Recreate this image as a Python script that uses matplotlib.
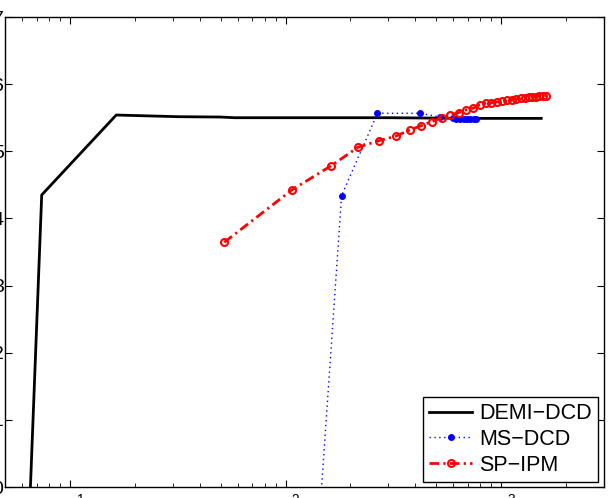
import numpy as np
import matplotlib
matplotlib.use('Agg')
import matplotlib.pyplot as plt

# values
demi_x = [6.56, 7.4, 16.4, 32, 50, 58, 116, 300, 700, 1535]
demi_y = [0.0, 4.35, 5.54, 5.515, 5.51, 5.50, 5.50, 5.50, 5.49, 5.49]

ms_x = [130, 182, 267, 422, 520, 596, 620, 645, 670, 695, 720, 745, 767]
ms_y = [-2.5, 4.34, 5.566, 5.566, 5.51, 5.49, 5.485, 5.48, 5.48, 5.48, 5.48, 5.48, 5.48]

sp_x = [52, 107, 163, 217, 272, 327, 377, 427, 478, 531, 581, 637, 689, 739, 794,
        847, 900, 955, 1010, 1065, 1120, 1175, 1230, 1285, 1340, 1395, 1450, 1505,
        1560, 1615]
sp_y = [3.645, 4.424, 4.786, 5.060, 5.159, 5.229, 5.318, 5.382, 5.442, 5.501,
        5.541, 5.576, 5.616, 5.641, 5.690, 5.715, 5.724, 5.735, 5.745, 5.76,
        5.77, 5.78, 5.79, 5.80, 5.805, 5.81, 5.815, 5.82, 5.825, 5.83]

labels = ['DEMI\u2212DCD', 'MS\u2212DCD', 'SP\u2212IPM']

plt.rcParams['font.family'] = ['Liberation Sans', 'DejaVu Sans']

fig = plt.figure(figsize=(6.12, 4.98), dpi=100)
W, H = 612.0, 498.0
ax = fig.add_axes([5 / W, 1 - 487 / H, (604 - 5) / W, (487 - 17) / H])

ax.plot(demi_x, demi_y, color='black', lw=2, label=labels[0])
ax.plot(ms_x, ms_y, color='blue', lw=1, linestyle=(0, (1, 2.5)),
        marker='.', markersize=8, label=labels[1])
ax.plot(sp_x, sp_y, color='red', lw=2, linestyle=(0, (3.5, 1.5, 0.8, 1.5)),
        marker='o', markersize=5, mfc='none', mew=1.5, label=labels[2])

ax.set_xscale('log')
ax.set_xlim(5, 3000)
ax.set_ylim(0, 7)
ax.set_yticks(range(0, 8))

for s in ax.spines.values():
    s.set_linewidth(1.0)
ax.tick_params(which='both', direction='in', top=True, right=True, labelsize=14)
ax.tick_params(axis='y', pad=1)
ax.tick_params(axis='x', pad=4.5)
ax.tick_params(which='major', length=5)
ax.tick_params(which='minor', length=3)

leg = ax.legend(loc='lower right', bbox_to_anchor=(0.99, 0.0106), borderaxespad=0,
                fontsize=15.5, fancybox=False, framealpha=1, edgecolor='black',
                handlelength=2.0, handletextpad=0.3, labelspacing=0.22, borderpad=0.3)
leg.get_frame().set_linewidth(1.0)

fig.savefig('out.png', dpi=100)
